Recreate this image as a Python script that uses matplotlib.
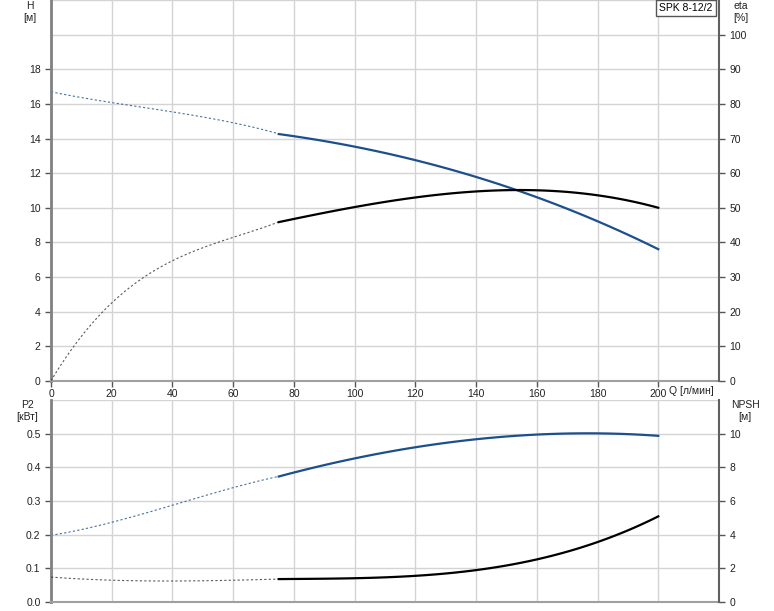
import numpy as np
import matplotlib.pyplot as plt

plt.rcParams['font.family'] = ['Liberation Sans', 'DejaVu Sans']
plt.rcParams['font.size'] = 7.5

# flow points, l/min
Q_DOT = [0, 20, 40, 60, 75]
Q_SOL = [75, 100, 120, 140, 160, 180, 200]

# head H [m]
H_DOT = [16.7, 16.07, 15.55, 14.9, 14.28]
H_SOL = [14.28, 13.47, 12.77, 11.85, 10.58, 9.19, 7.63]

# efficiency eta [%]
ETA_DOT = [0, 22.8, 34.3, 41.8, 45.8]
ETA_SOL = [45.8, 50.4, 53.0, 54.5, 55.0, 53.9, 49.9]

# power P2 [kW]
P2_DOT = [0.198, 0.237, 0.287, 0.34, 0.373]
P2_SOL = [0.373, 0.426, 0.459, 0.485, 0.497, 0.50, 0.494]

# NPSH [m]
NPSH_DOT = [1.48, 1.3, 1.24, 1.3, 1.36]
NPSH_SOL = [1.36, 1.42, 1.54, 1.9, 2.54, 3.55, 5.09]

BLUE = '#1b4f8d'
TXT = '#222222'


def smooth(x, y, n=80):
    c = np.polyfit(x, y, min(3, len(x) - 1))
    xs = np.linspace(x[0], x[-1], n)
    return xs, np.polyval(c, xs)


def right_axis(ax, top, step, label_top):
    r = ax.twinx()
    r.set_ylim(0, top)
    r.set_yticks(np.arange(0, label_top + step / 2, step))
    for s in ['top', 'left', 'bottom']:
        r.spines[s].set_visible(False)
    r.spines['right'].set_color('#606060')
    r.spines['right'].set_linewidth(1.5)
    r.tick_params(colors='#555555', labelcolor=TXT, length=4, width=1)
    return r


fig = plt.figure(figsize=(7.74, 6.11), dpi=100)
ax1 = fig.add_axes([51 / 774, 1 - 381 / 611, 668 / 774, 381 / 611])
ax2 = fig.add_axes([51 / 774, 1 - 602 / 611, 668 / 774, 202 / 611])

for ax in (ax1, ax2):
    ax.set_xlim(0, 220)
    ax.set_xticks(np.arange(0, 201, 20))
    ax.set_xticks([220], minor=True)
    ax.grid(True, which='both', color='#d4d4d4', linewidth=1)
    ax.set_axisbelow(True)
    for s in ['top', 'right']:
        ax.spines[s].set_visible(False)
    ax.spines['left'].set_color('#808080')
    ax.spines['left'].set_linewidth(2)
    ax.spines['bottom'].set_color('#a0a0a0')
    ax.spines['bottom'].set_linewidth(1.5)
    ax.tick_params(colors='#555555', labelcolor=TXT, length=4, width=1)
    ax.tick_params(which='minor', length=0)

# top: H and eta
ax1.set_ylim(0, 22)
ax1.set_yticks(np.arange(0, 19, 2))
ax1.set_yticks([20, 22], minor=True)
ax1.tick_params(axis='x', pad=2)

ax1r = right_axis(ax1, 110, 10, 100)

x, y = smooth(Q_DOT, H_DOT)
ax1.plot(x, y, color=BLUE, lw=0.8, ls=(0, (2, 2)), alpha=0.8)
x, y = smooth(Q_SOL, H_SOL)
ax1.plot(x, y, color=BLUE, lw=1.6)
x, y = smooth(Q_DOT, ETA_DOT)
ax1r.plot(x, y, color='#333333', lw=0.8, ls=(0, (2, 2)), alpha=0.8)
x, y = smooth(Q_SOL, ETA_SOL)
ax1r.plot(x, y, color='black', lw=1.6)

# bottom: P2 and NPSH
ax2.set_ylim(0, 0.6)
ax2.set_yticks(np.arange(0, 0.51, 0.1))
ax2.set_yticklabels(['0.0', '0.1', '0.2', '0.3', '0.4', '0.5'])
ax2.set_yticks([0.6], minor=True)
ax2.set_xticklabels([])
ax2.tick_params(axis='x', length=0)

ax2r = right_axis(ax2, 12, 2, 10)

x, y = smooth(Q_DOT, P2_DOT)
ax2.plot(x, y, color=BLUE, lw=0.8, ls=(0, (2, 2)), alpha=0.8)
x, y = smooth(Q_SOL, P2_SOL)
ax2.plot(x, y, color=BLUE, lw=1.6)
x, y = smooth(Q_DOT, NPSH_DOT)
ax2r.plot(x, y, color='#333333', lw=0.8, ls=(0, (2, 2)), alpha=0.8)
x, y = smooth(Q_SOL, NPSH_SOL)
ax2r.plot(x, y, color='black', lw=1.6)

# labels
fig.text(30 / 774, 1 - 12 / 611, 'H\n[м]', ha='center', va='center', color=TXT, linespacing=1.3)
fig.text(741 / 774, 1 - 12 / 611, 'eta\n[%]', ha='center', va='center', color=TXT, linespacing=1.3)
fig.text(27 / 774, 1 - 411 / 611, 'P2\n[кВт]', ha='center', va='center', color=TXT, linespacing=1.3)
fig.text(745 / 774, 1 - 411 / 611, 'NPSH\n[м]', ha='center', va='center', color=TXT, linespacing=1.3)
fig.text(669 / 774, 1 - 391 / 611, 'Q [л/мин]', ha='left', va='center', color=TXT)
fig.text(686 / 774, 1 - 8 / 611, 'SPK 8-12/2', ha='center', va='center', color='black',
         bbox=dict(boxstyle='square,pad=0.3', fc='white', ec='#555555', lw=1))

fig.savefig('out.png', dpi=100)
